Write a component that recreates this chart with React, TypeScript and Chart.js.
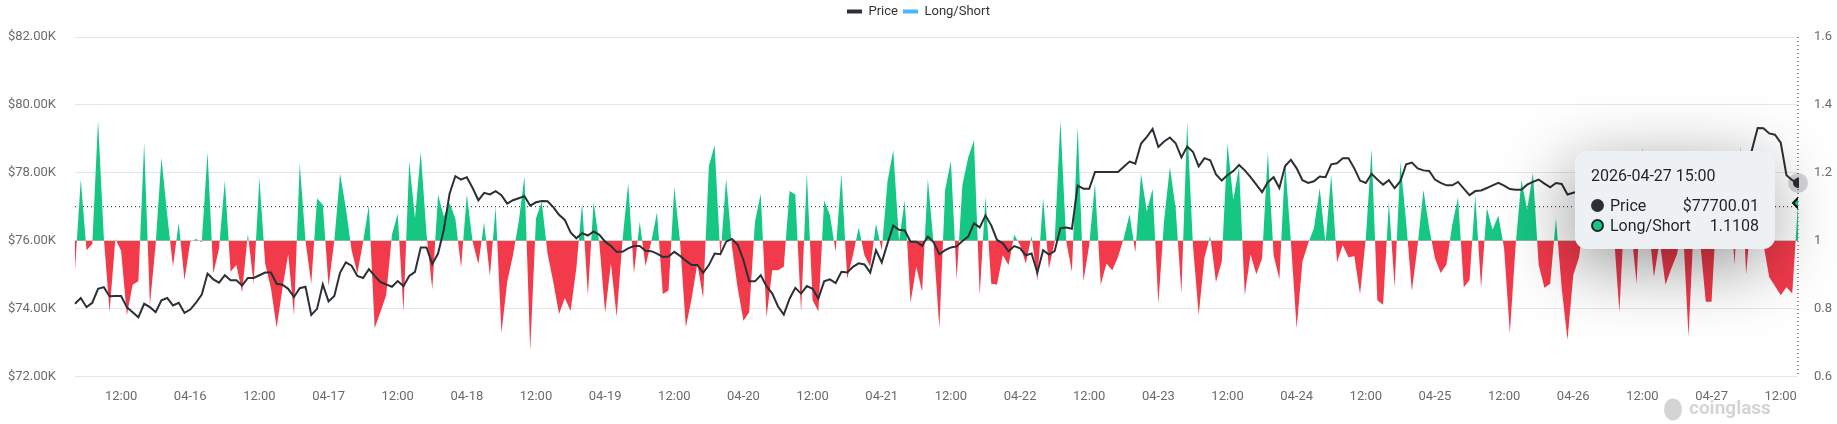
import React, { useRef, useEffect } from "react";
import { Chart, registerables } from "chart.js";

Chart.register(...registerables);

// hourly points, first one is 2026-04-15 04:00
const startTime = Date.UTC(2026, 3, 15, 4);
const hourMs = 3600 * 1000;

// BTC price in thousands of USD
const priceK = [
  74.14, 74.31, 74.04, 74.17, 74.58, 74.63, 74.36, 74.37, 74.37, 74.04,
  73.89, 73.74, 74.14, 74.04, 73.89, 74.24, 74.31, 74.09, 74.17, 73.87,
  73.97, 74.17, 74.41, 75.03, 74.86, 74.76, 74.98, 74.83, 74.83, 74.68,
  74.9, 74.9, 74.98, 75.06, 75.06, 74.73, 74.7, 74.58, 74.34, 74.6,
  74.64, 73.81, 73.99, 74.71, 74.21, 74.37, 75.06, 75.36, 75.26, 74.96,
  74.9, 75.16, 74.96, 74.78, 74.71, 74.64, 74.81, 74.66, 74.96, 75.08,
  75.8, 75.8, 75.31, 75.62, 76.32, 77.38, 77.9, 77.8, 77.87, 77.55,
  77.19, 77.41, 77.36, 77.46, 77.34, 77.09, 77.19, 77.25, 77.31, 77.03,
  77.13, 77.17, 77.16, 76.99, 76.76, 76.61, 76.24, 76.07, 76.22, 76.15,
  76.27, 76.17, 75.97, 75.84, 75.67, 75.67, 75.77, 75.84, 75.84, 75.7,
  75.69, 75.62, 75.52, 75.53, 75.67, 75.55, 75.41, 75.28, 75.28, 75.05,
  75.28, 75.62, 75.6, 75.97, 76.05, 75.88, 75.43, 74.8, 74.8, 74.98,
  74.66, 74.44, 74.06, 73.82, 74.29, 74.61, 74.44, 74.66, 74.58, 74.29,
  74.8, 74.86, 74.75, 75.08, 75.06, 75.23, 75.33, 75.3, 75.06, 75.72,
  75.36, 75.92, 76.44, 76.32, 76.3, 75.97, 75.97, 75.85, 76.12, 75.95,
  75.6, 75.72, 75.8, 75.83, 75.99, 76.12, 76.51, 76.39, 76.74, 76.45,
  76.02, 75.92, 75.69, 75.84, 75.77, 75.57, 75.62, 75.06, 75.72, 75.59,
  75.69, 76.37, 76.39, 76.35, 77.62, 77.53, 77.53, 78.02, 78.02, 78.02,
  78.02, 78.02, 78.18, 78.33, 78.27, 78.86, 79.06, 79.29, 78.76, 78.92,
  79.04, 78.87, 78.45, 78.77, 78.62, 78.19, 78.43, 78.37, 77.95, 77.77,
  77.93, 78.05, 78.23, 78.07, 77.87, 77.65, 77.43, 77.72, 77.87, 77.55,
  78.2, 78.38, 78.13, 77.78, 77.7, 77.75, 77.89, 77.87, 78.25, 78.28,
  78.43, 78.43, 78.13, 77.77, 77.7, 77.97, 77.8, 77.65, 77.78, 77.55,
  77.75, 78.25, 78.3, 78.13, 78.07, 78.05, 77.8, 77.7, 77.63, 77.63,
  77.73, 77.53, 77.34, 77.46, 77.48, 77.55, 77.63, 77.7, 77.62, 77.52,
  77.5, 77.5, 77.65, 77.73, 77.8, 77.68, 77.57, 77.7, 77.67, 77.36,
  77.41, 77.45, 77.52, 77.38, 77.3, 77.42, 77.55, 77.48, 77.35, 77.4,
  77.58, 77.62, 77.5, 77.44, 77.36, 77.47, 77.55, 77.6, 77.52, 77.41,
  77.33, 77.45, 77.57, 77.64, 77.55, 77.48, 77.6, 77.72, 77.66, 77.78,
  77.95, 78.67, 79.32, 79.31, 79.16, 79.12, 78.89, 77.93, 77.78, 77.70001,
];

// long/short account ratio
const longShort = [
  0.913, 1.18, 0.972, 0.99, 1.355, 1.01, 0.79, 1.005, 0.97, 0.78,
  0.87, 0.88, 1.29, 0.81, 0.99, 1.245, 1.076, 0.923, 1.053, 0.883,
  0.997, 1.005, 0.995, 1.261, 0.903, 0.977, 1.177, 0.908, 0.928, 0.848,
  1.02, 0.873, 1.185, 0.933, 0.86, 0.743, 0.86, 0.96, 0.78, 1.227,
  1.0, 0.873, 1.124, 1.106, 0.866, 1.0, 1.198, 1.096, 0.972, 0.903,
  0.997, 1.104, 0.742, 0.79, 0.839, 1.017, 1.079, 0.791, 1.233, 1.066,
  1.261, 1.02, 0.856, 1.136, 1.071, 1.111, 1.066, 0.921, 1.136, 0.997,
  0.931, 1.054, 0.896, 1.1, 0.728, 0.878, 0.957, 1.056, 1.19, 0.675,
  1.066, 1.114, 0.962, 0.878, 0.784, 0.831, 0.793, 0.918, 1.111, 0.839,
  1.114, 0.99, 0.787, 0.933, 0.776, 1.0, 1.17, 0.903, 1.056, 0.925,
  0.997, 1.084, 0.843, 0.853, 1.158, 0.997, 0.745, 0.829, 0.933, 0.831,
  1.22, 1.282, 0.95, 1.183, 0.982, 0.86, 0.764, 0.789, 1.056, 1.138,
  0.774, 0.913, 0.913, 0.923, 1.146, 1.136, 0.789, 1.2, 0.824, 0.791,
  1.118, 1.076, 0.967, 1.198, 0.888, 0.957, 1.039, 0.957, 0.923, 1.049,
  0.972, 1.175, 1.267, 1.0, 1.119, 0.817, 0.923, 0.85, 1.182, 0.99,
  0.742, 1.15, 1.235, 0.886, 1.165, 1.245, 1.296, 0.839, 1.131, 0.873,
  0.871, 0.957, 0.928, 1.017, 0.987, 0.933, 1.014, 0.88, 1.126, 0.918,
  0.997, 1.355, 1.0, 0.908, 1.337, 0.88, 0.987, 1.17, 0.87, 0.933,
  0.913, 0.952, 1.007, 1.078, 0.965, 1.197, 1.086, 1.153, 0.814, 1.06,
  1.217, 1.096, 0.844, 1.349, 0.987, 0.781, 0.95, 1.014, 0.878, 0.938,
  1.286, 1.121, 1.217, 0.839, 0.959, 0.901, 0.948, 1.261, 0.957, 0.886,
  1.233, 0.997, 0.742, 0.938, 0.992, 1.037, 1.155, 0.992, 1.195, 0.936,
  0.987, 0.95, 0.955, 0.842, 1.007, 1.271, 0.824, 0.811, 1.114, 0.863,
  1.232, 1.056, 0.851, 0.987, 1.149, 1.037, 0.948, 0.905, 0.93, 1.047,
  1.128, 0.863, 0.883, 1.134, 0.861, 1.096, 1.032, 1.074, 0.977, 0.728,
  0.987, 1.178, 1.091, 1.2, 0.928, 0.861, 0.873, 1.066, 0.858, 0.708,
  0.898, 0.95, 1.08, 1.02, 1.15, 0.99, 1.1, 1.03, 0.79, 1.12,
  1.04, 0.873, 1.275, 1.06, 0.893, 1.0, 0.87, 0.917, 0.96, 1.05,
  0.717, 1.08, 1.0, 0.82, 0.82, 1.13, 1.06, 1.18, 0.928, 1.28,
  0.9, 1.1, 1.04, 0.99, 0.893, 0.866, 0.839, 0.863, 0.844, 1.1108,
];

const priceTicks = [72, 74, 76, 78, 80, 82];
const ratioTicks = [0.6, 0.8, 1.0, 1.2, 1.4, 1.6];

// where the mouse sits on the right axis when the tooltip was captured
const crosshairRatio = 1.1;

const times = priceK.map((_, i) => new Date(startTime + i * hourMs));
const pad = (n: number) => String(n).padStart(2, "0");
const fullLabel = (d: Date) =>
  `${d.getUTCFullYear()}-${pad(d.getUTCMonth() + 1)}-${pad(d.getUTCDate())} ${pad(d.getUTCHours())}:00`;
const categories = times.map(fullLabel);

const GREEN = "#16c784";
const RED = "#f23a4b";
const DARK = "#2b2f36";
const FONT = "Roboto, 'Noto Sans', sans-serif";

const overlayPlugin = {
  id: "overlay",
  afterInit(chart: any) {
    // leave some room below the legend
    const legend = chart.legend;
    if (!legend) return;
    const fit = legend.fit.bind(legend);
    legend.fit = () => {
      fit();
      legend.height += 9;
    };
  },
  beforeDatasetsDraw(chart: any) {
    const { ctx, chartArea } = chart;
    const active = chart.getActiveElements();
    if (!active.length) return;
    const x = active[0].element.x;
    ctx.save();
    ctx.strokeStyle = "#222";
    ctx.lineWidth = 1;
    ctx.setLineDash([1, 3]);
    ctx.beginPath();
    ctx.moveTo(x, chartArea.top);
    ctx.lineTo(x, chartArea.bottom);
    const y = chart.scales.yRatio.getPixelForValue(crosshairRatio);
    ctx.moveTo(chartArea.left, y);
    ctx.lineTo(chartArea.right, y);
    ctx.stroke();
    ctx.setLineDash([]);
    const p = active.find((a: any) => a.datasetIndex === 0);
    if (p) {
      ctx.fillStyle = "rgba(0,0,0,0.16)";
      ctx.beginPath();
      ctx.arc(p.element.x, p.element.y, 10, 0, Math.PI * 2);
      ctx.fill();
    }
    ctx.restore();
  },
  afterDraw(chart: any) {
    const { ctx, chartArea } = chart;
    const x = chartArea.right - 109;
    const y = chartArea.bottom + 33;
    ctx.save();
    ctx.fillStyle = "#d4d4d4";
    ctx.beginPath();
    ctx.ellipse(x - 16, y, 9, 11, 0, 0, Math.PI * 2);
    ctx.fill();
    ctx.font = `bold 19px ${FONT}`;
    ctx.textBaseline = "middle";
    ctx.fillText("coinglass", x, y);
    ctx.restore();
  },
};

const App = () => {
  const canvasRef = useRef<HTMLCanvasElement | null>(null);
  const tipRef = useRef<HTMLDivElement | null>(null);
  const chartRef = useRef<Chart | null>(null);

  useEffect(() => {
    const ctx = canvasRef.current?.getContext("2d");
    if (!ctx) return;

    const external = ({ chart, tooltip }: any) => {
      const el = tipRef.current;
      if (!el) return;
      if (tooltip.opacity === 0 || !tooltip.dataPoints?.length) {
        el.style.opacity = "0";
        return;
      }
      const idx = tooltip.dataPoints[0].dataIndex;
      const row = (dot: string, label: string, value: string) =>
        `<div style="display:flex;align-items:center;height:20px">` +
        `<span style="display:inline-block;box-sizing:border-box;width:13px;height:13px;border-radius:50%;margin-right:6px;${dot}"></span>` +
        `<span style="flex:1">${label}</span><span>${value}</span></div>`;
      el.innerHTML =
        `<div style="height:20px;margin-bottom:10px">${categories[idx]}</div>` +
        row(`background:${DARK}`, "Price", "$" + (priceK[idx] * 1000).toFixed(2)) +
        row(`background:${GREEN};border:2px solid #1e2329`, "Long/Short", longShort[idx].toFixed(4));
      el.style.opacity = "1";
      const crossY = chart.scales.yRatio.getPixelForValue(crosshairRatio);
      el.style.left = `${tooltip.caretX - 23 - el.offsetWidth}px`;
      el.style.top = `${crossY - 56}px`;
    };

    chartRef.current = new Chart(ctx, {
      type: "line",
      data: {
        labels: categories,
        datasets: [
          {
            label: "Price",
            data: priceK,
            yAxisID: "yPrice",
            borderColor: DARK,
            backgroundColor: DARK,
            borderWidth: 2,
            pointRadius: 0,
            pointHoverRadius: 5,
            pointHoverBackgroundColor: DARK,
            pointHoverBorderColor: DARK,
            pointHoverBorderWidth: 0,
            tension: 0,
            fill: false,
          },
          {
            label: "Long/Short",
            data: longShort,
            yAxisID: "yRatio",
            borderColor: "rgba(0,0,0,0)",
            backgroundColor: GREEN,
            borderWidth: 0,
            pointRadius: 0,
            pointStyle: "rectRot",
            pointHoverRadius: 5,
            pointHoverBackgroundColor: GREEN,
            pointHoverBorderColor: "#111",
            pointHoverBorderWidth: 2,
            tension: 0,
            fill: { target: { value: 1 }, above: GREEN, below: RED },
          },
        ],
      },
      options: {
        animation: false,
        responsive: true,
        maintainAspectRatio: false,
        events: [],
        layout: { padding: { left: 0, right: 0, top: 0, bottom: 7 } },
        plugins: {
          legend: {
            position: "top",
            labels: {
              font: { family: FONT, size: 13 },
              color: "#333",
              boxWidth: 15,
              boxHeight: 4,
              padding: 5,
              generateLabels: () => [
                { text: "Price", fillStyle: DARK, strokeStyle: DARK, lineWidth: 0, datasetIndex: 0, hidden: false, fontColor: "#333" },
                { text: "Long/Short", fillStyle: "#4db6ff", strokeStyle: "#4db6ff", lineWidth: 0, datasetIndex: 1, hidden: false, fontColor: "#333" },
              ],
            },
          },
          tooltip: { enabled: false, position: "average", external },
        },
        scales: {
          x: {
            type: "category",
            offset: false,
            grid: { display: false, drawTicks: false },
            border: { display: false },
            ticks: {
              autoSkip: false,
              maxRotation: 0,
              minRotation: 0,
              padding: 12.5,
              color: "#6b6b6b",
              font: { family: FONT, size: 13 },
              callback: (_v: any, i: number) => {
                const d = times[i];
                const h = d.getUTCHours();
                if (h === 0) return `${pad(d.getUTCMonth() + 1)}-${pad(d.getUTCDate())}`;
                if (h === 12) return "12:00";
                return null;
              },
            },
          },
          yPrice: {
            position: "left",
            min: priceTicks[0],
            max: priceTicks[priceTicks.length - 1],
            afterBuildTicks: (s: any) => {
              s.ticks = priceTicks.map((value) => ({ value }));
            },
            afterFit: (s: any) => {
              s.width = 75;
            },
            grid: { color: "#e6e6e6", drawTicks: false },
            border: { display: false },
            ticks: {
              padding: 19,
              color: "#6b6b6b",
              font: { family: FONT, size: 13 },
              callback: (v: any) => "$" + Number(v).toFixed(2) + "K",
            },
          },
          yRatio: {
            position: "right",
            min: ratioTicks[0],
            max: ratioTicks[ratioTicks.length - 1],
            afterBuildTicks: (s: any) => {
              s.ticks = ratioTicks.map((value) => ({ value }));
            },
            afterFit: (s: any) => {
              s.width = 39;
            },
            grid: { display: false, drawTicks: false },
            border: { display: false },
            ticks: {
              padding: 16,
              color: "#6b6b6b",
              font: { family: FONT, size: 13 },
              callback: (v: any) => String(Number(Number(v).toFixed(1))),
            },
          },
        },
      },
      plugins: [overlayPlugin],
    } as any);

    const chart = chartRef.current;
    const last = priceK.length - 1;
    const act = [
      { datasetIndex: 0, index: last },
      { datasetIndex: 1, index: last },
    ];
    chart.setActiveElements(act);
    const el = chart.getDatasetMeta(0).data[last] as any;
    chart.tooltip?.setActiveElements(act, { x: el.x, y: el.y });
    chart.update();

    return () => {
      if (chartRef.current) {
        chartRef.current.destroy();
        chartRef.current = null;
      }
    };
  }, []);

  return (
    <div
      style={{
        position: "fixed",
        left: 0,
        top: 0,
        width: "100vw",
        height: "100vh",
        background: "#fff",
        overflow: "hidden",
      }}
    >
      <canvas ref={canvasRef} />
      <div
        ref={tipRef}
        style={{
          position: "absolute",
          left: 0,
          top: 0,
          opacity: 0,
          pointerEvents: "none",
          width: 200,
          boxSizing: "border-box",
          padding: "15px 16px 13px",
          background: "#eef1f4",
          borderRadius: 12,
          boxShadow: "-6px 16px 70px rgba(0,0,0,0.42)",
          fontFamily: FONT,
          fontSize: 16,
          lineHeight: "20px",
          color: "#1e2329",
        }}
      />
    </div>
  );
};

export default App;
